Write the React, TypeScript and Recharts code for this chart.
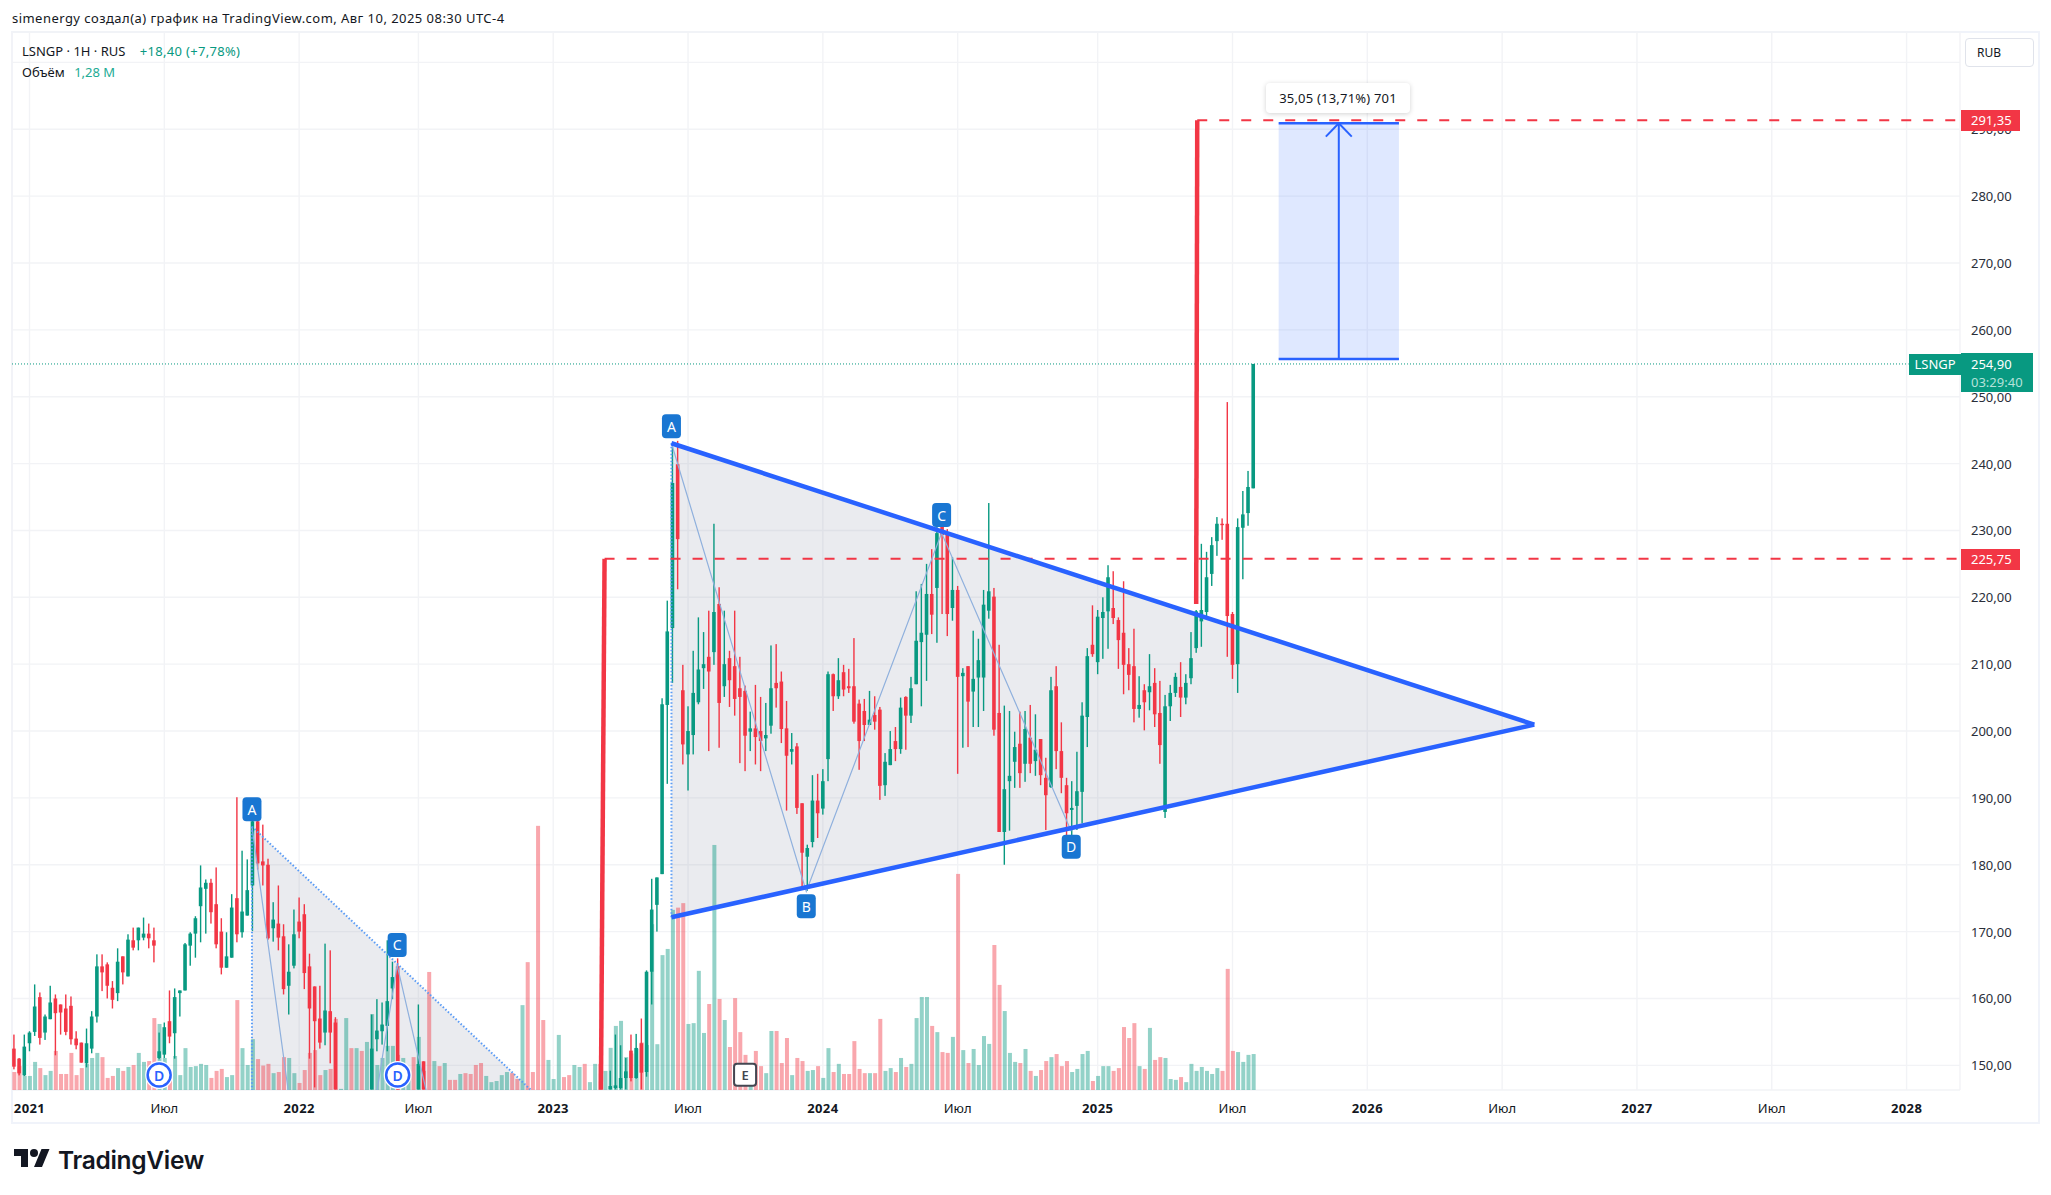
import {
  Area,
  Bar,
  CartesianGrid,
  ComposedChart,
  Line,
  ReferenceArea,
  ReferenceDot,
  ReferenceLine,
  XAxis,
  YAxis,
} from 'recharts';

const _ = null;

const opens = [
  152.5, 151.0, 148.5, 153.3, 155.0, 160.2, 154.9, 156.9, 160.0, 159.1,
  158.5, 158.9, 154.0, 153.4, 150.3, 152.5, 157.3, 164.8, 165.1, 161.6,
  160.8, 166.3, 163.3, 168.7, 168.7, 169.1, 169.7, 168.7, 151.1, 151.6,
  156.6, 154.8, 160.8, 161.2, 167.9, 169.7, 173.8, 176.4, 177.3, 174.1,
  170.0, 164.6, 166.1, 175.0, 169.9, 172.4, 176.9, 186.5, 180.5, 180.0,
  170.5, 171.2, 169.3, 161.9, 164.9, 171.5, 172.6, 164.8, 161.8, 157.0,
  154.9, 158.1, 156.4, _, _, _, _, _, _, 146.4,
  153.9, 155.1, 155.9, 161.5, 164.8, _, _, _, 146.4, 150.6,
  _, _, _, _, _, _, _, _, _, _,
  _, _, _, _, _, _, _, _, _, _,
  _, _, _, _, _, _, _, _, _, _,
  _, _, _, _, _, 146.4, 146.6, 146.6, 148.1, 152.2,
  148.1, 153.3, 149.0, 164.0, 174.0, 178.6, 203.9, 215.4, 239.9, 206.1,
  196.5, 199.4, 204.3, 209.4, 211.1, 211.8, 219.0, 206.7, 210.9, 209.7,
  206.4, 206.0, 199.9, 200.4, 200.0, 198.9, 200.8, 207.2, 207.4, 200.4,
  196.9, 197.7, 189.2, 181.2, 183.4, 189.6, 188.4, 195.8, 208.5, 205.2,
  208.8, 206.7, 206.7, 204.1, 203.0, 200.9, 202.4, 203.2, 191.9, 194.9,
  198.5, 197.3, 205.1, 202.3, 207.0, 213.3, 214.4, 220.5, 221.4, 232.5,
  229.6, 218.4, 221.1, 208.2, 209.7, 205.9, 208.0, 208.0, 218.0, 220.1,
  202.7, 184.9, 192.5, 195.4, 198.1, 195.1, 199.0, 195.5, 198.8, 193.0,
  191.6, 206.7, 197.0, 191.9, 188.2, 188.8, 190.9, 202.1, 212.9, 210.3,
  216.9, 217.9, 218.4, 216.6, 214.7, 210.0, 209.7, 203.3, 206.1, 205.8,
  207.2, 202.7, 187.9, 203.7, 205.7, 206.6, 205.0, 207.9, 212.4, 216.4,
  217.8, 223.5, 228.4, 231.0, 231.0, 217.5, 210.0, 230.4, 232.6, 236.3,
];

const closes = [
  149.8, 148.8, 152.8, 154.9, 158.8, 154.1, 157.3, 159.4, 157.8, 157.9,
  155.0, 153.9, 153.0, 150.4, 153.3, 157.3, 164.8, 163.9, 161.9, 159.8,
  165.5, 163.9, 168.8, 167.6, 170.6, 169.7, 169.0, 167.9, 152.1, 155.7,
  154.3, 160.2, 161.2, 168.1, 169.7, 172.0, 176.6, 177.3, 172.9, 168.1,
  164.6, 166.3, 173.6, 169.6, 173.0, 176.2, 186.5, 180.2, 179.9, 169.0,
  171.8, 169.1, 161.4, 164.0, 169.6, 170.0, 163.8, 158.5, 156.6, 153.4,
  158.2, 154.9, 146.4, _, _, _, _, _, _, 152.5,
  155.2, 156.1, 159.6, 163.2, 146.4, _, _, _, 150.2, 146.4,
  _, _, _, _, _, _, _, _, _, _,
  _, _, _, _, _, _, _, _, _, _,
  _, _, _, _, _, _, _, _, _, _,
  _, _, _, _, _, 146.9, 147.0, 148.1, 149.1, 148.1,
  152.6, 148.9, 164.0, 173.3, 178.1, 204.0, 214.9, 237.1, 228.7, 198.0,
  200.0, 205.7, 209.2, 210.0, 208.9, 217.8, 204.2, 210.0, 207.6, 204.8,
  205.1, 199.3, 200.4, 199.1, 198.5, 199.4, 206.4, 206.4, 200.3, 196.3,
  197.3, 188.5, 181.8, 182.5, 189.6, 187.7, 192.5, 208.5, 205.2, 207.6,
  206.2, 206.4, 201.4, 198.5, 200.9, 201.7, 201.4, 191.8, 195.4, 197.3,
  197.3, 203.5, 202.3, 206.4, 213.5, 214.7, 220.5, 217.4, 229.6, 229.3,
  217.5, 221.1, 208.1, 208.7, 204.4, 207.8, 210.6, 218.9, 220.9, 200.2,
  184.9, 191.3, 193.3, 197.6, 193.7, 200.3, 195.1, 197.2, 193.4, 190.4,
  206.1, 197.0, 193.0, 187.7, 188.5, 191.0, 202.3, 211.2, 211.5, 217.1,
  217.8, 223.0, 216.9, 213.6, 209.9, 208.4, 203.3, 203.9, 204.3, 206.7,
  202.5, 197.9, 203.7, 205.7, 208.1, 205.0, 207.2, 210.9, 217.9, 218.1,
  223.0, 227.8, 231.0, 230.8, 217.2, 209.9, 230.5, 232.4, 236.5, 254.9,
];

const highs = [
  154.6, 151.1, 154.6, 155.1, 162.1, 160.9, 157.6, 161.9, 160.6, 159.1,
  160.6, 160.3, 155.1, 153.4, 155.5, 158.1, 166.6, 166.6, 165.4, 162.6,
  167.5, 166.3, 169.6, 170.6, 170.6, 172.1, 171.2, 170.6, 154.9, 156.4,
  161.2, 161.5, 161.2, 168.3, 169.9, 172.3, 179.9, 177.8, 177.9, 179.6,
  172.0, 169.9, 175.6, 190.1, 182.1, 180.8, 187.8, 188.3, 186.0, 180.9,
  174.4, 176.9, 171.1, 168.1, 173.3, 175.1, 174.1, 166.7, 161.8, 161.9,
  168.2, 167.2, 157.2, _, _, _, _, _, _, 157.6,
  159.9, 159.4, 168.7, 165.5, 166.0, _, _, _, 159.1, 150.6,
  _, _, _, _, _, _, _, _, _, _,
  _, _, _, _, _, _, _, _, _, _,
  _, _, _, _, _, _, _, _, _, _,
  _, _, _, _, _, 149.2, 154.6, 153.0, 151.1, 154.6,
  154.7, 157.0, 164.2, 177.9, 178.1, 204.9, 219.5, 242.5, 243.4, 209.9,
  203.7, 212.0, 217.0, 214.8, 218.0, 231.0, 221.5, 218.0, 212.0, 218.0,
  211.1, 206.8, 202.9, 206.9, 205.1, 204.2, 212.8, 213.0, 208.9, 204.5,
  199.7, 198.2, 189.2, 183.0, 193.4, 193.6, 194.3, 208.9, 208.6, 210.9,
  209.9, 209.3, 213.9, 204.7, 204.8, 206.0, 205.2, 203.6, 196.7, 200.0,
  200.6, 205.0, 205.2, 208.1, 220.9, 222.0, 225.0, 227.2, 231.0, 232.5,
  230.2, 226.0, 221.7, 209.4, 209.7, 215.0, 213.8, 221.1, 234.1, 221.4,
  212.9, 203.8, 203.0, 199.9, 202.9, 203.0, 203.9, 202.5, 198.8, 196.0,
  208.1, 209.7, 201.3, 193.0, 192.5, 196.9, 204.3, 212.4, 218.8, 218.1,
  220.0, 224.8, 223.9, 217.0, 222.4, 212.4, 215.3, 208.2, 207.0, 211.5,
  209.4, 207.5, 205.4, 206.9, 208.7, 210.3, 208.5, 214.8, 218.1, 228.0,
  226.8, 229.0, 232.0, 231.8, 249.2, 217.8, 231.8, 235.9, 238.9, 254.9,
];

const lows = [
  149.4, 148.5, 148.4, 152.1, 154.4, 153.1, 153.8, 156.9, 151.5, 154.6,
  154.5, 153.1, 152.4, 150.4, 149.7, 151.8, 156.4, 161.1, 160.0, 158.5,
  159.6, 162.1, 163.3, 167.2, 167.2, 168.7, 167.5, 165.4, 150.9, 151.1,
  153.3, 151.0, 157.3, 161.2, 164.9, 166.1, 168.4, 169.7, 171.2, 167.5,
  163.6, 164.6, 166.1, 168.4, 169.1, 172.4, 170.1, 179.3, 176.9, 168.8,
  168.5, 167.2, 160.6, 157.6, 164.5, 169.0, 161.4, 151.0, 146.7, 152.5,
  153.0, 150.3, 146.4, _, _, _, _, _, _, 146.4,
  152.1, 153.1, 152.1, 159.9, 146.4, _, _, _, 146.4, 146.4,
  _, _, _, _, _, _, _, _, _, _,
  _, _, _, _, _, _, _, _, _, _,
  _, _, _, _, _, _, _, _, _, _,
  _, _, _, _, _, 146.4, 146.4, 146.4, 146.4, 147.6,
  148.0, 146.4, 148.3, 159.1, 170.0, 178.6, 192.1, 207.2, 221.2, 195.0,
  191.1, 196.5, 204.0, 206.3, 197.0, 209.9, 197.5, 205.1, 203.6, 202.3,
  195.2, 194.0, 197.0, 195.0, 194.0, 197.0, 199.6, 203.5, 198.2, 188.1,
  195.0, 187.6, 176.3, 176.1, 182.6, 184.0, 187.5, 192.5, 203.0, 204.8,
  205.2, 205.7, 201.1, 194.2, 198.5, 200.9, 200.2, 189.7, 190.3, 194.9,
  195.5, 196.6, 197.2, 201.2, 207.0, 203.7, 207.5, 214.5, 213.2, 217.5,
  214.2, 216.5, 193.6, 197.5, 197.6, 200.6, 200.6, 203.0, 216.8, 199.3,
  184.9, 180.0, 185.1, 191.5, 191.5, 192.4, 193.7, 193.3, 191.9, 185.2,
  191.5, 194.3, 190.7, 184.0, 184.2, 185.2, 186.2, 197.6, 211.1, 208.5,
  210.8, 212.3, 216.0, 209.3, 205.5, 206.1, 201.3, 202.0, 200.1, 203.1,
  200.6, 195.1, 187.0, 201.5, 205.1, 202.1, 204.0, 207.0, 211.7, 212.6,
  217.1, 221.7, 226.2, 228.6, 211.1, 207.8, 205.7, 222.7, 230.7, 236.3,
];

// volume in millions
const volumes = [
  0.64, 0.85, 0.5, 0.5, 1.0, 0.78, 0.53, 0.68, 1.39, 0.57,
  0.57, 1.32, 0.53, 0.78, 0.93, 1.14, 1.32, 1.17, 0.43, 0.5,
  0.78, 0.68, 0.82, 0.89, 1.32, 1.0, 1.03, 2.56, 2.35, 1.14,
  0.5, 1.21, 0.53, 1.49, 0.82, 0.85, 0.93, 0.89, 0.43, 0.68,
  0.75, 0.46, 0.53, 3.2, 1.49, 0.89, 1.81, 1.1, 0.87, 0.93,
  0.6, 0.64, 1.17, 1.14, 0.6, 0.25, 0.71, 1.32, 1.42, 0.53,
  0.71, 0.75, 2.53, 0.04, 2.56, 1.49, 1.49, 1.39, 1.71, 2.7,
  0.89, 1.14, 1.57, 1.57, 1.25, 1.14, 0.71, 1.17, 1.89, 0.68,
  4.2, 1.03, 0.85, 0.96, 0.36, 0.36, 0.57, 0.6, 0.57, 0.89,
  0.96, 0.5, 0.28, 0.32, 0.53, 0.64, 0.6, 0.39, 3.02, 4.55,
  0.64, 9.4, 2.49, 1.07, 0.39, 1.96, 0.46, 0.53, 0.89, 0.82,
  0.93, 0.28, 0.93, 0.93, 0.68, 1.5, 2.28, 2.46, 1.17, 1.3,
  1.47, 1.69, 1.6, 5.9, 1.63, 4.8, 5.02, 6.41, 6.49, 6.65,
  2.35, 2.38, 4.24, 2.03, 3.06, 8.72, 3.24, 2.49, 1.53, 3.27,
  2.06, 1.25, 0.19, 1.39, 0.85, 0.6, 2.1, 2.1, 0.96, 1.85,
  0.53, 1.14, 1.03, 0.68, 0.71, 0.85, 0.43, 1.49, 0.64, 0.93,
  0.57, 0.57, 1.74, 0.75, 0.6, 0.6, 0.6, 2.53, 0.68, 0.78,
  0.64, 1.14, 0.82, 0.93, 2.56, 3.31, 3.31, 2.28, 2.06, 1.35,
  1.32, 1.89, 7.69, 1.42, 0.96, 1.46, 0.89, 1.92, 1.64, 5.16,
  3.74, 2.81, 1.32, 1.0, 0.96, 1.46, 0.68, 0.5, 0.71, 1.03,
  1.17, 1.28, 0.85, 1.03, 0.64, 0.75, 1.28, 1.39, 0.32, 0.5,
  0.85, 0.85, 0.68, 0.78, 2.24, 1.85, 2.38, 0.85, 0.75, 2.21,
  1.07, 1.17, 1.14, 0.39, 0.36, 0.46, 0.28, 0.93, 0.68, 0.82,
  0.68, 0.57, 0.78, 0.68, 4.31, 1.39, 1.35, 1.0, 1.25, 1.28,
];

// g = up week, r = down week (also for weeks whose candle is below the visible range)
const volumeDirs = (
  'rrgggrggrr' + 'rrrrgggrrr' + 'grgrggrrgg' + 'rgggggggrr' + 'rggrgggrrr' + 'grrggrrrrr' +
  'grrggrgrgg' + 'ggggrggrgr' + 'rgrgrrgrrr' + 'rgggggrrgr' + 'rrrgggrrgg' + 'rggrgggggr' +
  'grggggggrr' + 'ggggrgrgrr' + 'rrgrrggrrr' + 'grrggrggrg' + 'rrrrrgrrgg' + 'rgrggggrgr' +
  'rgrgrggggr' + 'rgggrgrgrr' + 'grrrggggrg' + 'ggrrrrrgrg' + 'rrgggrgggg' + 'gggrrrgggg'
).split('');

const timeTicks = [3, 29, 55, 78, 104, 130, 156, 182, 209, 235, 261, 287, 313, 339, 365];
const timeLabels = ['2021', 'Июл', '2022', 'Июл', '2023', 'Июл', '2024', 'Июл', '2025', 'Июл', '2026', 'Июл', '2027', 'Июл', '2028'];
const priceTicks = [150, 160, 170, 180, 190, 200, 210, 220, 230, 240, 250, 260, 270, 280, 290, 300];

// drawings on the chart
const triangleRight = [
  { idx: 126.8, band: [172.14, 243.04] },
  { idx: 293.2, band: [200.95, 200.95] },
];
const triangleLeft = [
  { idx: 45.9, band: [146.31, 185.7] },
  { idx: 99.7, band: [146.31, 146.31] },
];
const patternRight = [
  { idx: 126.8, price: 243.04 },
  { idx: 152.8, price: 176.0 },
  { idx: 178.9, price: 229.6 },
  { idx: 203.9, price: 185.0 },
];
const patternLeft = [
  { idx: 45.9, price: 185.7 },
  { idx: 60.8, price: 101.6 },
  { idx: 73.9, price: 165.0 },
  { idx: 91.8, price: 105.0 },
];
const pointLabels = [
  { idx: 45.9, price: 188.3, text: 'A' },
  { idx: 73.9, price: 168.0, text: 'C' },
  { idx: 126.8, price: 245.6, text: 'A' },
  { idx: 152.8, price: 173.8, text: 'B' },
  { idx: 178.9, price: 232.3, text: 'C' },
  { idx: 203.9, price: 182.7, text: 'D' },
];
const dividends = [28, 74];
const earnings = [141];

const FONT = "'Noto Sans', sans-serif";
const UP = '#089981';
const DOWN = '#f23645';
const BLUE = '#2962ff';
const X_DOMAIN = [-0.376, 375.3];
const BODY_WIDTH = 3.6;

const chartData = opens.map((open, i) => ({
  idx: i,
  range: open === null ? null : [lows[i], highs[i]],
  open,
  close: closes[i],
  volume: volumes[i],
  dir: volumeDirs[i],
}));

function Candle(props: any) {
  const { x, y, width, height, payload } = props;
  if (!payload.range) return null;
  const [low, high] = payload.range;
  const perUnit = height / (high - low);
  const top = y + (high - Math.max(payload.open, payload.close)) * perUnit;
  const bottom = y + (high - Math.min(payload.open, payload.close)) * perUnit;
  const color = payload.close >= payload.open ? UP : DOWN;
  const cx = x + width / 2;
  return (
    <g>
      <rect x={cx - 0.7} y={y} width={1.4} height={height} fill={color} />
      <rect x={cx - BODY_WIDTH / 2} y={top} width={BODY_WIDTH} height={Math.max(bottom - top, 1.4)} fill={color} />
    </g>
  );
}

function VolumeBar(props: any) {
  const { x, y, width, height, payload } = props;
  return (
    <rect
      x={x}
      y={y}
      width={width}
      height={height}
      fill={payload.dir === 'g' ? UP : DOWN}
      fillOpacity={0.44}
    />
  );
}

function TimeTick({ x, payload }: any) {
  const label = timeLabels[timeTicks.indexOf(payload.value)];
  const isYear = label !== 'Июл';
  return (
    <text
      x={x}
      y={1108}
      textAnchor="middle"
      dominantBaseline="central"
      fontFamily={FONT}
      fontSize={13}
      fontWeight={isYear ? 700 : 400}
      letterSpacing={isYear ? 0.4 : 0}
      fill="#131722"
    >
      {label}
    </text>
  );
}

function PriceTick({ y, payload }: any) {
  if (payload.value === 300) return null;
  return (
    <text x={1971} y={y} dominantBaseline="central" fontFamily={FONT} fontSize={13} fill="#2a2e39">
      {payload.value},00
    </text>
  );
}

function PointLabel({ cx, cy, text }: any) {
  return (
    <g>
      <rect x={cx - 9.5} y={cy - 12} width={19} height={24} rx={4} fill="#1976d2" />
      <text x={cx} y={cy} textAnchor="middle" dominantBaseline="central" fontFamily={FONT} fontSize={14} fill="#fff">
        {text}
      </text>
    </g>
  );
}

function DividendMark({ cx, cy }: any) {
  return (
    <g>
      <circle cx={cx} cy={cy} r={14} fill="#fff" />
      <circle cx={cx} cy={cy} r={11.5} fill="#fff" stroke={BLUE} strokeWidth={2.5} />
      <text x={cx} y={cy} textAnchor="middle" dominantBaseline="central" fontFamily={FONT} fontSize={14} fontWeight={600} fill={BLUE}>
        D
      </text>
    </g>
  );
}

function EarningsMark({ cx, cy }: any) {
  return (
    <g>
      <rect x={cx - 11} y={cy - 11} width={22} height={22} rx={3} fill="#fff" stroke="#434651" strokeWidth={2} />
      <text x={cx} y={cy} textAnchor="middle" dominantBaseline="central" fontFamily={FONT} fontSize={13} fontWeight={600} fill="#434651">
        E
      </text>
    </g>
  );
}

function PriceBox({ top, height, left = 1961, width = 59, bg, children }: any) {
  return (
    <div
      style={{
        position: 'absolute',
        left,
        top,
        width,
        height,
        background: bg,
        color: '#fff',
        fontSize: 13,
        lineHeight: `${height}px`,
        paddingLeft: 10,
        boxSizing: 'border-box',
      }}
    >
      {children}
    </div>
  );
}

export default function App() {
  return (
    <div
      style={{
        position: 'absolute',
        left: 0,
        top: 0,
        width: 2051,
        height: 1195,
        background: '#fff',
        fontFamily: FONT,
        color: '#131722',
        overflow: 'hidden',
      }}
    >
      <div style={{ position: 'absolute', left: 12, top: 8, fontSize: 13, lineHeight: '20px', letterSpacing: '0.46px' }}>
        simenergy создал(а) график на TradingView.com, Авг 10, 2025 08:30 UTC-4
      </div>
      <div
        style={{
          position: 'absolute',
          left: 11,
          top: 31,
          width: 2029,
          height: 1093,
          border: '2px solid #f0f3fa',
          boxSizing: 'border-box',
        }}
      />
      <div style={{ position: 'absolute', left: 0, top: 0 }}>
        <ComposedChart
          width={2051}
          height={1195}
          data={chartData}
          margin={{ left: 12, top: 32, right: 11, bottom: 72 }}
        >
          <CartesianGrid stroke="#f2f3f6" strokeWidth={1.4} />
          <XAxis
            type="number"
            dataKey="idx"
            domain={X_DOMAIN}
            ticks={timeTicks}
            interval={0}
            allowDataOverflow
            axisLine={false}
            tickLine={false}
            height={33}
            tick={<TimeTick />}
          />
          <XAxis xAxisId="vol" type="number" dataKey="idx" domain={X_DOMAIN} allowDataOverflow hide />
          <YAxis
            orientation="right"
            domain={[146.31, 304.55]}
            ticks={priceTicks}
            interval={0}
            allowDataOverflow
            axisLine={false}
            tickLine={false}
            width={80}
            tick={<PriceTick />}
          />
          <YAxis yAxisId="vol" domain={[0, 37.65]} allowDataOverflow hide />

          <Bar
            xAxisId="vol"
            yAxisId="vol"
            dataKey="volume"
            barSize={4}
            shape={<VolumeBar />}
            isAnimationActive={false}
          />
          <ReferenceArea x1={243.9} x2={267.1} y1={255.65} y2={290.9} fill={BLUE} fillOpacity={0.15} stroke="none" />
          <Area
            data={triangleLeft}
            dataKey="band"
            type="linear"
            stroke="none"
            fill="#7c8299"
            fillOpacity={0.16}
            dot={false}
            activeDot={false}
            isAnimationActive={false}
          />
          <Area
            data={triangleRight}
            dataKey="band"
            type="linear"
            stroke="none"
            fill="#7c8299"
            fillOpacity={0.16}
            dot={false}
            activeDot={false}
            isAnimationActive={false}
          />
          <Line
            data={patternLeft}
            dataKey="price"
            type="linear"
            stroke="#8fb0dd"
            strokeWidth={1.2}
            dot={false}
            activeDot={false}
            isAnimationActive={false}
          />
          <Line
            data={patternRight}
            dataKey="price"
            type="linear"
            stroke="#8fb0dd"
            strokeWidth={1.2}
            dot={false}
            activeDot={false}
            isAnimationActive={false}
          />
          <Bar dataKey="range" barSize={4} shape={<Candle />} isAnimationActive={false} />

          {/* last price */}
          <ReferenceLine
            segment={[{ x: -0.376, y: 254.9 }, { x: 365.4, y: 254.9 }]}
            stroke={UP}
            strokeWidth={1}
            strokeDasharray="1 2"
          />
          {/* left triangle, dotted */}
          <ReferenceLine
            segment={[{ x: 45.9, y: 185.7 }, { x: 99.7, y: 146.31 }]}
            stroke="#5b9cf6"
            strokeWidth={2}
            strokeDasharray="1.5 2"
          />
          <ReferenceLine
            segment={[{ x: 45.9, y: 185.7 }, { x: 45.9, y: 146.31 }]}
            stroke="#5b9cf6"
            strokeWidth={2}
            strokeDasharray="1.5 2"
          />
          <ReferenceLine
            segment={[{ x: 126.8, y: 243.04 }, { x: 126.8, y: 172.14 }]}
            stroke="#5b9cf6"
            strokeWidth={2}
            strokeDasharray="1.5 2"
          />
          {/* red levels */}
          <ReferenceLine segment={[{ x: 113.9, y: 225.75 }, { x: 113.2, y: 146.35 }]} stroke={DOWN} strokeWidth={4.5} />
          <ReferenceLine
            segment={[{ x: 113.9, y: 225.75 }, { x: 375.3, y: 225.75 }]}
            stroke={DOWN}
            strokeWidth={2}
            strokeDasharray="10 12"
          />
          <ReferenceLine segment={[{ x: 228.2, y: 291.35 }, { x: 228, y: 219 }]} stroke={DOWN} strokeWidth={4.5} />
          <ReferenceLine
            segment={[{ x: 228.2, y: 291.35 }, { x: 375.3, y: 291.35 }]}
            stroke={DOWN}
            strokeWidth={2}
            strokeDasharray="10 12"
          />
          {/* right triangle */}
          <ReferenceLine segment={[{ x: 126.8, y: 243.04 }, { x: 293.2, y: 200.95 }]} stroke={BLUE} strokeWidth={4.5} />
          <ReferenceLine segment={[{ x: 126.8, y: 172.14 }, { x: 293.2, y: 200.95 }]} stroke={BLUE} strokeWidth={4.5} />
          {/* price range tool */}
          <ReferenceLine segment={[{ x: 243.9, y: 290.9 }, { x: 267.1, y: 290.9 }]} stroke={BLUE} strokeWidth={2.5} />
          <ReferenceLine segment={[{ x: 243.9, y: 255.65 }, { x: 267.1, y: 255.65 }]} stroke={BLUE} strokeWidth={2.5} />
          <ReferenceLine segment={[{ x: 255.5, y: 255.65 }, { x: 255.5, y: 290.9 }]} stroke={BLUE} strokeWidth={2} />
          <ReferenceLine segment={[{ x: 253, y: 288.9 }, { x: 255.5, y: 290.9 }]} stroke={BLUE} strokeWidth={2} />
          <ReferenceLine segment={[{ x: 258, y: 288.9 }, { x: 255.5, y: 290.9 }]} stroke={BLUE} strokeWidth={2} />

          {pointLabels.map((p, i) => (
            <ReferenceDot
              key={`pt${i}`}
              x={p.idx}
              y={p.price}
              shape={(s: any) => <PointLabel cx={s.cx} cy={s.cy} text={p.text} />}
            />
          ))}
          {dividends.map((d) => (
            <ReferenceDot key={`d${d}`} x={d} y={148.55} shape={(s: any) => <DividendMark cx={s.cx} cy={s.cy} />} />
          ))}
          {earnings.map((d) => (
            <ReferenceDot key={`e${d}`} x={d} y={148.6} shape={(s: any) => <EarningsMark cx={s.cx} cy={s.cy} />} />
          ))}
        </ComposedChart>
      </div>

      {/* legend */}
      <div style={{ position: 'absolute', left: 22, top: 41, fontSize: 13, lineHeight: '20px', whiteSpace: 'nowrap' }}>
        LSNGP · 1H · RUS <span style={{ color: UP, marginLeft: 11, letterSpacing: '0.3px' }}>+18,40 (+7,78%)</span>
      </div>
      <div style={{ position: 'absolute', left: 22, top: 62, fontSize: 13, lineHeight: '20px', whiteSpace: 'nowrap' }}>
        Объём <span style={{ color: '#22ab94', marginLeft: 6 }}>1,28 M</span>
      </div>
      <div
        style={{
          position: 'absolute',
          left: 1965,
          top: 38,
          width: 69,
          height: 29,
          border: '1px solid #e0e3eb',
          borderRadius: 4,
          boxSizing: 'border-box',
          fontSize: 12,
          lineHeight: '27px',
          paddingLeft: 11,
          background: '#fff',
        }}
      >
        RUB
      </div>

      {/* price labels */}
      <PriceBox top={110} height={21} bg={DOWN}>291,35</PriceBox>
      <PriceBox top={548.5} height={21} bg={DOWN}>225,75</PriceBox>
      <PriceBox top={354} height={21} left={1908.5} width={52} bg={UP}>
        <span style={{ marginLeft: -4 }}>LSNGP</span>
      </PriceBox>
      <div
        style={{
          position: 'absolute',
          left: 1961,
          top: 353,
          width: 72,
          height: 39,
          background: UP,
          color: '#fff',
          fontSize: 13,
          paddingLeft: 10,
          boxSizing: 'border-box',
          lineHeight: '18px',
          paddingTop: 2,
        }}
      >
        <div>254,90</div>
        <div style={{ color: '#b5e2da' }}>03:29:40</div>
      </div>

      {/* measure label */}
      <div
        style={{
          position: 'absolute',
          left: 1266,
          top: 83,
          width: 144,
          height: 30,
          background: '#fff',
          borderRadius: 4,
          boxShadow: '0 1px 5px rgba(0,0,0,0.18)',
          fontSize: 13,
          lineHeight: '30px',
          textAlign: 'center',
          letterSpacing: '0.2px',
        }}
      >
        35,05 (13,71%) 701
      </div>

      {/* logo */}
      <svg style={{ position: 'absolute', left: 14, top: 1145 }} width={36} height={28} viewBox="0 0 36 28">
        <path d="M14 22H7V11H0V4h14v18zM28 22h-8l7.5-18h8L28 22z" fill="#131722" />
        <circle cx={20} cy={8} r={4} fill="#131722" />
      </svg>
      <div
        style={{
          position: 'absolute',
          left: 58,
          top: 1144,
          fontFamily: 'Inter, sans-serif',
          fontSize: 24.5,
          fontWeight: 600,
          lineHeight: '32px',
          letterSpacing: '-0.3px',
        }}
      >
        TradingView
      </div>
    </div>
  );
}
